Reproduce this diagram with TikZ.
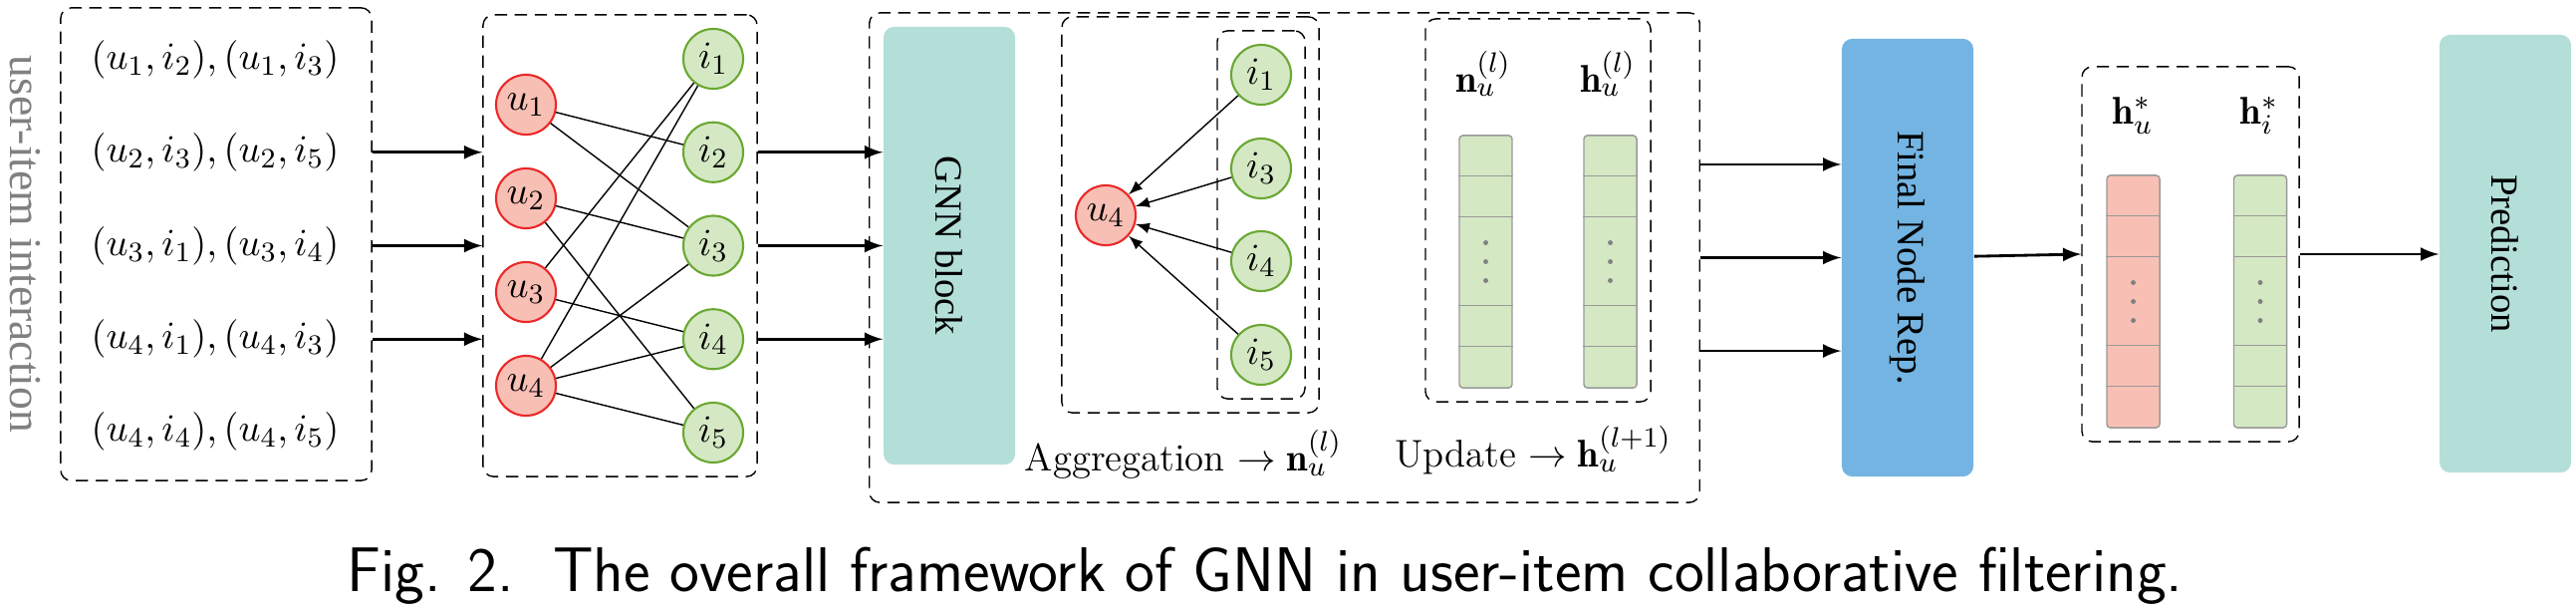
\documentclass[tikz,border=0pt]{standalone}
\usepackage{fontspec}
\newfontfamily\blockfont{Liberation Serif}
\usetikzlibrary{arrows, positioning}

\definecolor{usrred}{RGB}{248,191,181}
\definecolor{usrline}{RGB}{235,40,40}
\definecolor{itmgreen}{RGB}{213,232,196}
\definecolor{itmline}{RGB}{106,168,50}
\definecolor{blockteal}{RGB}{180,223,217}
\definecolor{blockblue}{RGB}{116,180,226}

\begin{document}
\begin{tikzpicture}[x=0.01cm, y=-0.01cm,
		group/.style={draw, dash pattern=on 3.5pt off 2.2pt, rounded corners=3pt, inner sep=0pt},
		user/.style={circle, draw=usrline, fill=usrred, semithick, minimum size=0.6cm, inner sep=0pt},
		item/.style={circle, draw=itmline, fill=itmgreen, semithick, minimum size=0.6cm, inner sep=0pt},
		block/.style={rounded corners=3pt, minimum width=1.32cm, minimum height=4.39cm, inner sep=0pt},
		blocktext/.style={rotate=-90, font=\blockfont\fontsize{11}{13}\selectfont},
		vecbar/.style={draw=gray!80, rounded corners=1pt, minimum width=0.53cm, minimum height=2.53cm, inner sep=0pt},
		link/.style={thin},
		arrow/.style={-latex, thick},
		font=\fontsize{11}{13}\selectfont
		]
		\useasboundingbox (0,0) rectangle (2586,615);
		
		% interactions
		\node[group, minimum width=3.12cm, minimum height=4.74cm] (pairs) at (217,245) {};
		\foreach \t [count=\k] in {{(u_1,i_2),(u_1,i_3)}, {(u_2,i_3),(u_2,i_5)}, {(u_3,i_1),(u_3,i_4)}, {(u_4,i_1),(u_4,i_3)}, {(u_4,i_4),(u_4,i_5)}}
			\node (p\k) at (216,{60+93.3*(\k-1)}) {$\t$};
		\node[rotate=-90, text=gray, font=\blockfont\fontsize{13}{15}\selectfont] (side) at (25,245) {user-item interaction};
		
		% bipartite graph
		\node[group, minimum width=2.75cm, minimum height=4.63cm] (graph) at (622.5,246.5) {};
		\foreach \k in {1,...,4}
			\node[user] (u\k) at (528,{105+94*(\k-1)}) {$u_\k$};
		\foreach \k in {1,...,5}
			\node[item] (i\k) at (716,{59+93.75*(\k-1)}) {$i_\k$};
		\foreach \a/\b in {1/2,1/3,2/3,2/5,3/1,3/4,4/1,4/3,4/4,4/5}
			\draw[link] (u\a) -- (i\b);
		
		% GNN block
		\node[group, minimum width=8.33cm, minimum height=4.91cm] (stage) at (1289.5,258.5) {};
		\node[block, fill=blockteal] (gnn) at (953,246.5) {};
		\node[blocktext] (gnntext) at (gnn) {GNN block};
		\foreach \k in {2,3,4} {
			\draw[arrow] (pairs.east |- i\k) -- (graph.west |- i\k);
			\draw[arrow] (graph.east |- i\k) -- (gnn.west |- i\k);
		}
		
		\node[group, minimum width=2.58cm, minimum height=3.97cm] (agg) at (1195,215.5) {};
		\node[group, minimum width=0.88cm, minimum height=3.69cm] (nbrs) at (1266,215.5) {};
		\node[user] (a4) at (1110,216) {$u_4$};
		\foreach \k/\y in {1/75,3/169,4/262,5/356} {
			\node[item] (b\k) at (1266,\y) {$i_\k$};
			\draw[-latex] (b\k) -- (a4);
		}
		\node (agglabel) at (1188,456) {Aggregation $\rightarrow \mathbf{n}_u^{(l)}$};
		
		\node[group, minimum width=2.26cm, minimum height=3.84cm] (upd) at (1544,211) {};
		\node (nlab) at (1489,74) {$\mathbf{n}_u^{(l)}$};
		\node (hlab) at (1614,74) {$\mathbf{h}_u^{(l)}$};
		\node (updlabel) at (1539,452) {Update $\rightarrow \mathbf{h}_u^{(l+1)}$};
		
		% embedding vectors
		\foreach \n/\x/\y/\c in {vn/1491.5/262.5/itmgreen, vh/1616.5/262.5/itmgreen, vu/2141.5/302.5/usrred, vi/2269/302.5/itmgreen} {
			\node[vecbar, fill=\c] (\n) at (\x,\y) {};
			\foreach \d in {0.41,0.82,1.71,2.12}
				\draw[gray!80] ([yshift=-\d cm]\n.north west) -- ([yshift=-\d cm]\n.north east);
			\foreach \d in {-0.19,0,0.19}
				\fill[gray] ([yshift=\d cm]\n.center) circle (0.7pt);
		}
		
		% final representation and prediction
		\node[block, fill=blockblue] (fnr) at (1915,258.5) {};
		\node[blocktext] (fnrtext) at (fnr) {Final Node Rep.};
		\foreach \s in {-0.935,0,0.935}
			\draw[arrow] ([yshift=\s cm]stage.east) -- ([yshift=\s cm]fnr.west);
		
		\node[group, minimum width=2.18cm, minimum height=3.76cm] (final) at (2199,255) {};
		\node (hulab) at (2141,116) {$\mathbf{h}_u^{*}$};
		\node (hilab) at (2268,116) {$\mathbf{h}_i^{*}$};
		\draw[arrow] (fnr) -- (final.west);
		
		\node[block, fill=blockteal] (pred) at (2515,254.5) {};
		\node[blocktext] (predtext) at (pred) {Prediction};
		\draw[arrow] (final.east) -- (pred.west |- final.east);
		
		\node[font=\sffamily\fontsize{18}{22}\selectfont] (caption) at (1270,578) {Fig. 2.\ \ The overall framework of GNN in user-item collaborative filtering.};
		
	\end{tikzpicture}
\end{document}
